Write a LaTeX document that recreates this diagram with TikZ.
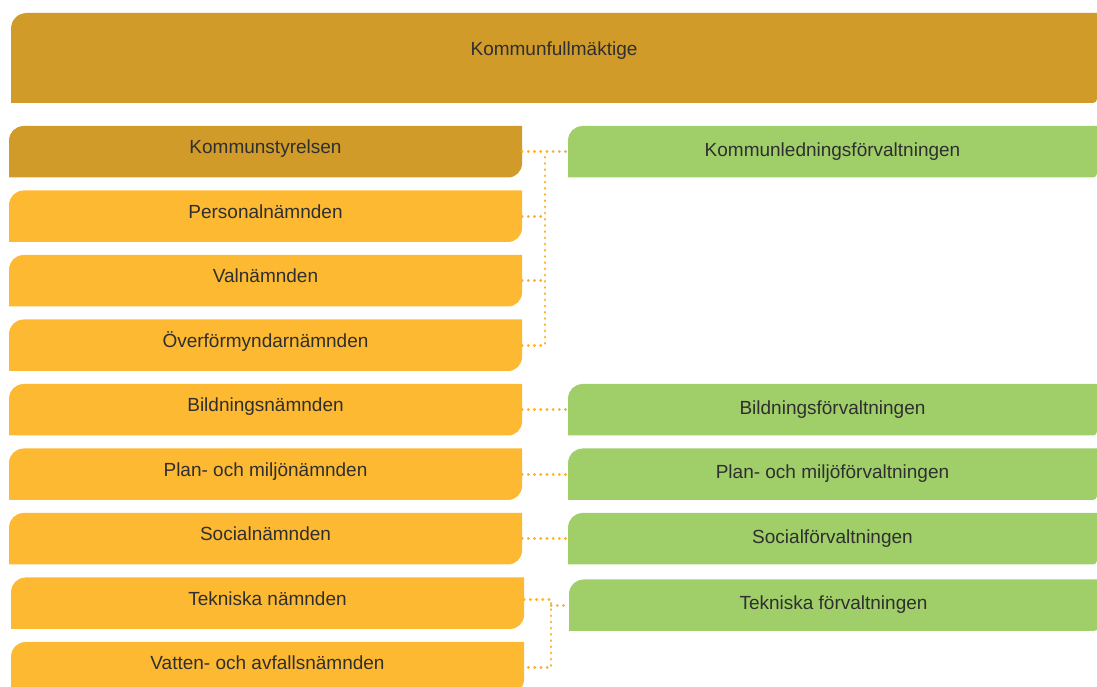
\documentclass[tikz,border=0pt]{standalone}
\usepackage{fontspec}
\setmainfont{Liberation Sans}
\usepackage{tikz}
\usetikzlibrary{positioning,calc,arrows.meta}
\usepackage{xcolor}
\definecolor{ksgold}{HTML}{D09B29}
\definecolor{nmdorange}{HTML}{FDB931}
\definecolor{forvgreen}{HTML}{A0CF69}
\definecolor{dotorange}{HTML}{F8B42E}
\definecolor{orgtext}{HTML}{2F2F2F}
\tikzset{
  >=Stealth,
  orgbox/.style={rectangle,inner sep=0pt,outer sep=0pt},
  orgtxt/.style={inner sep=0pt,text=orgtext,
    font=\fontsize{19}{23}\selectfont,text height=14pt,text depth=10pt},
  dots/.style={draw=dotorange,line width=2.8pt,line cap=round,
    dash pattern=on 0.3pt off 5.9pt},
}
\begin{document}
\begin{tikzpicture}[
  x=1pt,y=1pt,
  node distance=13pt,
  kfbox/.style={orgbox,minimum width=1086pt,minimum height=90pt},
  nbox/.style={orgbox,minimum width=513pt,minimum height=51.5pt},
  fbox/.style={orgbox,minimum width=529pt,minimum height=51.5pt},
  ftxt/.style={orgtxt,text depth=5pt}
]
  \useasboundingbox (0,0) rectangle (1097,687);

  \node[kfbox,anchor=north west] (kf) at (11,674) {};
  \node[nbox,anchor=north west] (ks) at ([xshift=-2pt,yshift=-23pt]kf.south west) {};
  \node[nbox,below=of ks] (pers) {};
  \node[nbox,below=of pers] (val) {};
  \node[nbox,below=of val] (ov) {};
  \node[nbox,below=of ov] (bn) {};
  \node[nbox,below=of bn] (pmn) {};
  \node[nbox,below=of pmn] (sn) {};
  \node[nbox,below=of sn,xshift=2pt] (tn) {};
  \node[nbox,below=of tn] (van) {};

  \node[fbox,right=46pt of ks] (klf) {};
  \node[fbox,right=46pt of bn] (bf) {};
  \node[fbox,right=46pt of pmn] (pmf) {};
  \node[fbox,right=46pt of sn] (sf) {};
  \node[fbox,right=45pt of tn,yshift=-2pt] (tf) {};

  \fill[ksgold] (kf.south west) -- ($(kf.north west)+(0,-15)$)
    to[out=90,in=180] ($(kf.north west)+(15,0)$) -- (kf.north east)
    -- ($(kf.south east)+(0,4)$) to[out=-90,in=0] ($(kf.south east)+(-4,0)$) -- cycle;
  \fill[ksgold] (ks.south west) -- ($(ks.north west)+(0,-14)$)
    to[out=90,in=180] ($(ks.north west)+(14,0)$) -- (ks.north east)
    -- ($(ks.south east)+(0,14)$) to[out=-90,in=0] ($(ks.south east)+(-14,0)$) -- cycle;
  \fill[nmdorange] (pers.south west) -- ($(pers.north west)+(0,-14)$)
    to[out=90,in=180] ($(pers.north west)+(14,0)$) -- (pers.north east)
    -- ($(pers.south east)+(0,14)$) to[out=-90,in=0] ($(pers.south east)+(-14,0)$) -- cycle;
  \fill[nmdorange] (val.south west) -- ($(val.north west)+(0,-14)$)
    to[out=90,in=180] ($(val.north west)+(14,0)$) -- (val.north east)
    -- ($(val.south east)+(0,14)$) to[out=-90,in=0] ($(val.south east)+(-14,0)$) -- cycle;
  \fill[nmdorange] (ov.south west) -- ($(ov.north west)+(0,-14)$)
    to[out=90,in=180] ($(ov.north west)+(14,0)$) -- (ov.north east)
    -- ($(ov.south east)+(0,14)$) to[out=-90,in=0] ($(ov.south east)+(-14,0)$) -- cycle;
  \fill[nmdorange] (bn.south west) -- ($(bn.north west)+(0,-14)$)
    to[out=90,in=180] ($(bn.north west)+(14,0)$) -- (bn.north east)
    -- ($(bn.south east)+(0,14)$) to[out=-90,in=0] ($(bn.south east)+(-14,0)$) -- cycle;
  \fill[nmdorange] (pmn.south west) -- ($(pmn.north west)+(0,-14)$)
    to[out=90,in=180] ($(pmn.north west)+(14,0)$) -- (pmn.north east)
    -- ($(pmn.south east)+(0,14)$) to[out=-90,in=0] ($(pmn.south east)+(-14,0)$) -- cycle;
  \fill[nmdorange] (sn.south west) -- ($(sn.north west)+(0,-14)$)
    to[out=90,in=180] ($(sn.north west)+(14,0)$) -- (sn.north east)
    -- ($(sn.south east)+(0,14)$) to[out=-90,in=0] ($(sn.south east)+(-14,0)$) -- cycle;
  \fill[nmdorange] (tn.south west) -- ($(tn.north west)+(0,-14)$)
    to[out=90,in=180] ($(tn.north west)+(14,0)$) -- (tn.north east)
    -- ($(tn.south east)+(0,14)$) to[out=-90,in=0] ($(tn.south east)+(-14,0)$) -- cycle;
  \fill[nmdorange] (van.south west) -- ($(van.north west)+(0,-14)$)
    to[out=90,in=180] ($(van.north west)+(14,0)$) -- (van.north east)
    -- ($(van.south east)+(0,14)$) to[out=-90,in=0] ($(van.south east)+(-14,0)$) -- cycle;
  \fill[forvgreen] (klf.south west) -- ($(klf.north west)+(0,-14)$)
    to[out=90,in=180] ($(klf.north west)+(14,0)$) -- (klf.north east)
    -- ($(klf.south east)+(0,4)$) to[out=-90,in=0] ($(klf.south east)+(-4,0)$) -- cycle;
  \fill[forvgreen] (bf.south west) -- ($(bf.north west)+(0,-14)$)
    to[out=90,in=180] ($(bf.north west)+(14,0)$) -- (bf.north east)
    -- ($(bf.south east)+(0,4)$) to[out=-90,in=0] ($(bf.south east)+(-4,0)$) -- cycle;
  \fill[forvgreen] (pmf.south west) -- ($(pmf.north west)+(0,-14)$)
    to[out=90,in=180] ($(pmf.north west)+(14,0)$) -- (pmf.north east)
    -- ($(pmf.south east)+(0,4)$) to[out=-90,in=0] ($(pmf.south east)+(-4,0)$) -- cycle;
  \fill[forvgreen] (sf.south west) -- ($(sf.north west)+(0,-14)$)
    to[out=90,in=180] ($(sf.north west)+(14,0)$) -- (sf.north east)
    -- ($(sf.south east)+(0,4)$) to[out=-90,in=0] ($(sf.south east)+(-4,0)$) -- cycle;
  \fill[forvgreen] (tf.south west) -- ($(tf.north west)+(0,-14)$)
    to[out=90,in=180] ($(tf.north west)+(14,0)$) -- (tf.north east)
    -- ($(tf.south east)+(0,4)$) to[out=-90,in=0] ($(tf.south east)+(-4,0)$) -- cycle;

  \node[orgtxt,text depth=18pt] (kf-t) at (kf) {Kommunfullmäktige};
  \node[orgtxt] (ks-t) at (ks) {Kommunstyrelsen};
  \node[orgtxt] (pers-t) at (pers) {Personalnämnden};
  \node[orgtxt] (val-t) at (val) {Valnämnden};
  \node[orgtxt] (ov-t) at (ov) {Överförmyndarnämnden};
  \node[orgtxt] (bn-t) at (bn) {Bildningsnämnden};
  \node[orgtxt] (pmn-t) at (pmn) {Plan- och miljönämnden};
  \node[orgtxt] (sn-t) at (sn) {Socialnämnden};
  \node[orgtxt] (tn-t) at (tn) {Tekniska nämnden};
  \node[orgtxt] (van-t) at (van) {Vatten- och avfallsnämnden};
  \node[ftxt] (klf-t) at (klf) {Kommunledningsförvaltningen};
  \node[ftxt] (bf-t) at (bf) {Bildningsförvaltningen};
  \node[ftxt] (pmf-t) at (pmf) {Plan- och miljöförvaltningen};
  \node[ftxt] (sf-t) at (sf) {Socialförvaltningen};
  \node[ftxt] (tf-t) at (tf) {Tekniska förvaltningen};

  \coordinate (kstrunk) at ($(ks.east)!0.5!(ks.east -| klf.west)$);
  \coordinate (tktrunk) at ($(tn.east)!0.6!(tn.east -| tf.west)$);

  \draw[dots] (ks.east) -- (ks.east -| klf.west);
  \draw[dots] (ov.east) -| (kstrunk);
  \draw[dots] (pers.east) -- (pers.east -| kstrunk);
  \draw[dots] (val.east) -- (val.east -| kstrunk);
  \draw[dots] (bn.east) -- (bn.east -| bf.west);
  \draw[dots] (pmn.east) -- (pmn.east -| pmf.west);
  \draw[dots] (sn.east) -- (sn.east -| sf.west);
  \draw[dots] ([yshift=4pt]tn.east) -| (tktrunk |- van.east) -- (van.east);
  \draw[dots] (tktrunk |- tf.west) -- (tf.west);

  \fill[white] (kf.north west) -- ($(kf.north west)+(0,-15)$)
    to[out=90,in=180] ($(kf.north west)+(15,0)$) -- cycle;
  \fill[white] (ks.north west) -- ($(ks.north west)+(0,-14)$)
    to[out=90,in=180] ($(ks.north west)+(14,0)$) -- cycle;
  \fill[white] (pers.north west) -- ($(pers.north west)+(0,-14)$)
    to[out=90,in=180] ($(pers.north west)+(14,0)$) -- cycle;
  \fill[white] (val.north west) -- ($(val.north west)+(0,-14)$)
    to[out=90,in=180] ($(val.north west)+(14,0)$) -- cycle;
  \fill[white] (ov.north west) -- ($(ov.north west)+(0,-14)$)
    to[out=90,in=180] ($(ov.north west)+(14,0)$) -- cycle;
  \fill[white] (bn.north west) -- ($(bn.north west)+(0,-14)$)
    to[out=90,in=180] ($(bn.north west)+(14,0)$) -- cycle;
  \fill[white] (pmn.north west) -- ($(pmn.north west)+(0,-14)$)
    to[out=90,in=180] ($(pmn.north west)+(14,0)$) -- cycle;
  \fill[white] (sn.north west) -- ($(sn.north west)+(0,-14)$)
    to[out=90,in=180] ($(sn.north west)+(14,0)$) -- cycle;
  \fill[white] (tn.north west) -- ($(tn.north west)+(0,-14)$)
    to[out=90,in=180] ($(tn.north west)+(14,0)$) -- cycle;
  \fill[white] (van.north west) -- ($(van.north west)+(0,-14)$)
    to[out=90,in=180] ($(van.north west)+(14,0)$) -- cycle;
  \fill[white] (klf.north west) -- ($(klf.north west)+(0,-14)$)
    to[out=90,in=180] ($(klf.north west)+(14,0)$) -- cycle;
  \fill[white] (bf.north west) -- ($(bf.north west)+(0,-14)$)
    to[out=90,in=180] ($(bf.north west)+(14,0)$) -- cycle;
  \fill[white] (pmf.north west) -- ($(pmf.north west)+(0,-14)$)
    to[out=90,in=180] ($(pmf.north west)+(14,0)$) -- cycle;
  \fill[white] (sf.north west) -- ($(sf.north west)+(0,-14)$)
    to[out=90,in=180] ($(sf.north west)+(14,0)$) -- cycle;
  \fill[white] (tf.north west) -- ($(tf.north west)+(0,-14)$)
    to[out=90,in=180] ($(tf.north west)+(14,0)$) -- cycle;
\end{tikzpicture}
\end{document}
